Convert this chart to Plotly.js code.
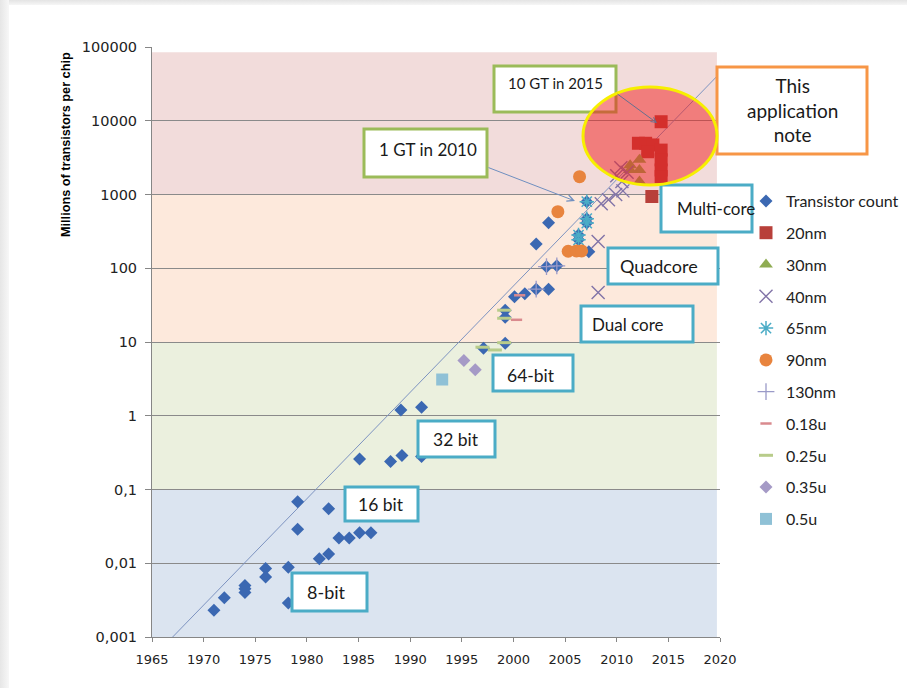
<!DOCTYPE html>
<html>
<head>
<meta charset="utf-8">
<script src="https://cdn.plot.ly/plotly-3.0.1.min.js"></script>
<style>
html,body{margin:0;padding:0;background:#fff;overflow:hidden;}
#chart{position:absolute;left:0;top:0;width:907px;height:688px;}
#edgeTop{position:absolute;left:0;top:0;width:907px;height:5px;background:linear-gradient(#e4e4e4,#f6f6f6);}
#edgeLeft{position:absolute;left:0;top:0;width:9px;height:688px;background:linear-gradient(90deg,#e6e6e6,#f7f7f7);}
</style>
</head>
<body>
<div id="chart"></div>
<div id="edgeTop"></div>
<div id="edgeLeft"></div>
<script>
// ---------- data (year, millions of transistors per chip) ----------
const tcYears  = [1971,1972,1974,1974,1974,1976,1976,1978.2,1978.2,1979.1,1979.1,1981.2,1982.1,1982.1,1983.1,1984.1,1985.1,1986.2,1985.1,1988.1,1989.2,1989.1,1991.1,1991.1,1997.1,1999.2,1999.2,1999.2,2000.1,2001.1,2002.2,2003.4,2003.2,2004.2,2002.2,2003.4,2006.3,2006.3,2007.1,2007.1,2007.1,2007.3];
const tcValues = [0.0023,0.0034,0.0050,0.0045,0.0040,0.0085,0.0065,0.0088,0.0029,0.068,0.029,0.0115,0.0134,0.055,0.022,0.022,0.026,0.026,0.26,0.24,0.29,1.2,1.3,0.28,8.2,9.6,27,21.6,41,45,52,52,105,108,213,414,282,243,800,470,410,168];

const nm20Years  = [2014.3,2012.1,2012.8,2013.5,2013.0,2014.3,2014.3,2014.3,2014.3,2013.4];
const nm20Values = [9700,4950,4950,4700,3800,4000,2950,2150,1750,940];

const nm30Years  = [2011.3,2012.2,2012.2,2011.3,2012.2];
const nm30Values = [2500,2950,2150,2150,1500];

const nm40Years  = [2008.2,2008.2,2008.5,2009.2,2009.9,2010.6,2010.0,2010.5,2010.4,2011.0];
const nm40Values = [230,47,750,850,1000,1120,1800,1500,2300,2000];

const nm65Years  = [2007.1,2007.1,2007.1,2006.3,2006.3];
const nm65Values = [800,470,410,282,243];

const nm90Years  = [2004.3,2006.4,2005.3,2006.1,2006.6];
const nm90Values = [585,1745,170,172,172];

const nm130Years  = [2002.2,2003.2,2004.2];
const nm130Values = [52,105,108];

const u018Years  = [2000.3,2000.6];
const u018Values = [20,43];

const u025Years  = [1997.0,1998.2,1999.1,1999.1,1999.1];
const u025Values = [8.5,7.8,9.8,27,21];

const u035Years  = [1995.2,1996.3];
const u035Values = [5.6,4.2];

const u05Years  = [1993.1];
const u05Values = [3.1];

const trendYears  = [1967,2019.7];
const trendValues = [0.001,40000];

const yTickVals  = [0.001,0.01,0.1,1,10,100,1000,10000,100000];
const yTickText  = ['0,001','0,01','0,1','1','10','100','1000','10000','100000'];

// ---------- layout helpers (pixel -> paper) ----------
const L=152, R=720, T=47, B=637;
const px = p => (p-L)/(R-L);
const py = p => (B-p)/(B-T);

function sc(name, xs, ys, color, symbol, size, lineW, open){
  const m = {color: color, symbol: symbol, size: size};
  if (open) m.line = {color: color, width: lineW};
  return {type:'scatter', mode:'markers', name:name, legendgroup:name, x:xs, y:ys, marker:m, hoverinfo:'x+y'};
}

const traces = [
  {type:'scatter', mode:'lines', x:trendYears, y:trendValues, line:{color:'#7d93c0', width:1}, showlegend:false, hoverinfo:'skip'},
  sc('Transistor count', tcYears, tcValues, '#3b68b2', 'diamond', 10),
  sc('20nm', nm20Years, nm20Values, '#b8403a', 'square', 13),
  sc('30nm', nm30Years, nm30Values, '#8fac52', 'triangle-up', 12),
  sc('40nm', nm40Years, nm40Values, '#8274a8', 'x-thin-open', 13, 1.4, true),
  sc('65nm', nm65Years, nm65Values, '#4bacc6', 'asterisk-open', 12, 1.5, true),
  sc('90nm', nm90Years, nm90Values, '#e8843e', 'circle', 13),
  sc('130nm', nm130Years, nm130Values, '#9a9ac8', 'cross-thin-open', 12, 1.3, true),
  sc('0.18u', u018Years, u018Values, '#d98a8e', 'line-ew-open', 8, 2.5, true),
  sc('0.25u', u025Years, u025Values, '#b8cc8a', 'line-ew-open', 10, 3, true),
  sc('0.35u', u035Years, u035Values, '#a59ac6', 'diamond', 10),
  sc('0.5u', u05Years, u05Values, '#8fc1d6', 'square', 12)
];

// background bands (value edges) and colours
const bandEdges = [0.001,0.1,10,1000,85000];
const bandColors = ['#dbe4f0','#ebf0de','#fde9dc','#f2dcdb'];
const shapes = [];
for (let i=0;i<bandColors.length;i++){
  shapes.push({type:'rect', layer:'below', xref:'x', yref:'y', x0:1965, x1:2019.7, y0:bandEdges[i], y1:bandEdges[i+1], fillcolor:bandColors[i], line:{width:0}});
}

// text boxes [x0,y0,x1,y1,color,text,tx,ty,size]
const boxes = [
  [494,66,616,112,'#9bbb59','10 GT in 2015',555,83,15],
  [364,129,487,177,'#9bbb59','1 GT in 2010',428,149,17],
  [717,67,867,154,'#f79646','This<br>application<br>note',792,110,19],
  [661,185,752,232,'#4bacc6','Multi-core',716,208,17],
  [608,248,718,284,'#4bacc6','Quadcore',659,266,18],
  [581,306,693,342,'#4bacc6','Dual core',628,324,17],
  [493,355,573,391,'#4bacc6','64-bit',531,375,17.5],
  [418,421,495,457,'#4bacc6','32 bit',456,439,17.5],
  [345,487,418,521,'#4bacc6','16 bit',381,504,17.5],
  [292,573,367,611,'#4bacc6','8-bit',326,592,18]
];
const annotations = [];
boxes.forEach(b=>{
  shapes.push({type:'rect', layer:'above', xref:'paper', yref:'paper', x0:px(b[0]), x1:px(b[2]), y0:py(b[3]), y1:py(b[1]), fillcolor:'#ffffff', line:{color:b[4], width:3}});
  annotations.push({xref:'paper', yref:'paper', x:px(b[6]), y:py(b[7]), text:b[5], showarrow:false, xanchor:'center', yanchor:'middle', font:{family:'Lato, Open Sans, sans-serif', size:b[8], color:'#1a1a1a'}});
});
// highlight ellipse
shapes.push({type:'circle', layer:'above', xref:'paper', yref:'paper', x0:px(583), x1:px(717), y0:py(185), y1:py(87), fillcolor:'rgba(240,30,30,0.5)', line:{color:'#f7ef00', width:3}});

// arrows
annotations.push({xref:'paper', yref:'paper', x:px(575), y:py(201), ax:-88, ay:-34, text:'', showarrow:true, arrowhead:5, arrowsize:1.3, arrowwidth:1, arrowcolor:'#6f8fc0', standoff:0});
annotations.push({xref:'paper', yref:'paper', x:px(657), y:py(123), ax:-41, ay:-30, text:'', showarrow:true, arrowhead:5, arrowsize:1, arrowwidth:1, arrowcolor:'#66708f', standoff:0});

// y axis title
annotations.push({xref:'paper', yref:'paper', x:px(66), y:py(145), text:'<b>Millions of transistors per chip</b>', textangle:-90, showarrow:false, xanchor:'center', yanchor:'middle', font:{family:'Liberation Sans, Arial, sans-serif', size:12.7, color:'#000'}});

const layout = {
  width:907, height:688,
  margin:{l:L, r:907-R, t:T, b:688-B, pad:0, autoexpand:false},
  paper_bgcolor:'#ffffff', plot_bgcolor:'#ffffff',
  showlegend:true,
  legend:{x:px(746), xanchor:'left', y:py(184), yanchor:'top', bgcolor:'rgba(0,0,0,0)', font:{family:'Lato, Open Sans, sans-serif', size:16, color:'#222'}, tracegroupgap:8, itemwidth:30, traceorder:'grouped'},
  xaxis:{range:[1965,2020], tick0:1965, dtick:5, showgrid:false, zeroline:false, showline:true, linecolor:'#868686', linewidth:1, ticks:'outside', ticklen:4, tickcolor:'#868686', ticklabelstandoff:6, tickfont:{family:'DejaVu Sans, Verdana, sans-serif', size:13, color:'#222'}},
  yaxis:{type:'log', range:[-3,5], tickmode:'array', tickvals:yTickVals, ticktext:yTickText, showgrid:true, gridcolor:'#8a8a8a', gridwidth:1, zeroline:false, showline:true, linecolor:'#868686', linewidth:1, ticks:'outside', ticklen:6, tickcolor:'#868686', ticklabelstandoff:5, tickfont:{family:'DejaVu Sans, Verdana, sans-serif', size:14.5, color:'#222'}},
  shapes:shapes,
  annotations:annotations
};

Plotly.newPlot('chart', traces, layout, {displayModeBar:false, staticPlot:true});
</script>
</body>
</html>
